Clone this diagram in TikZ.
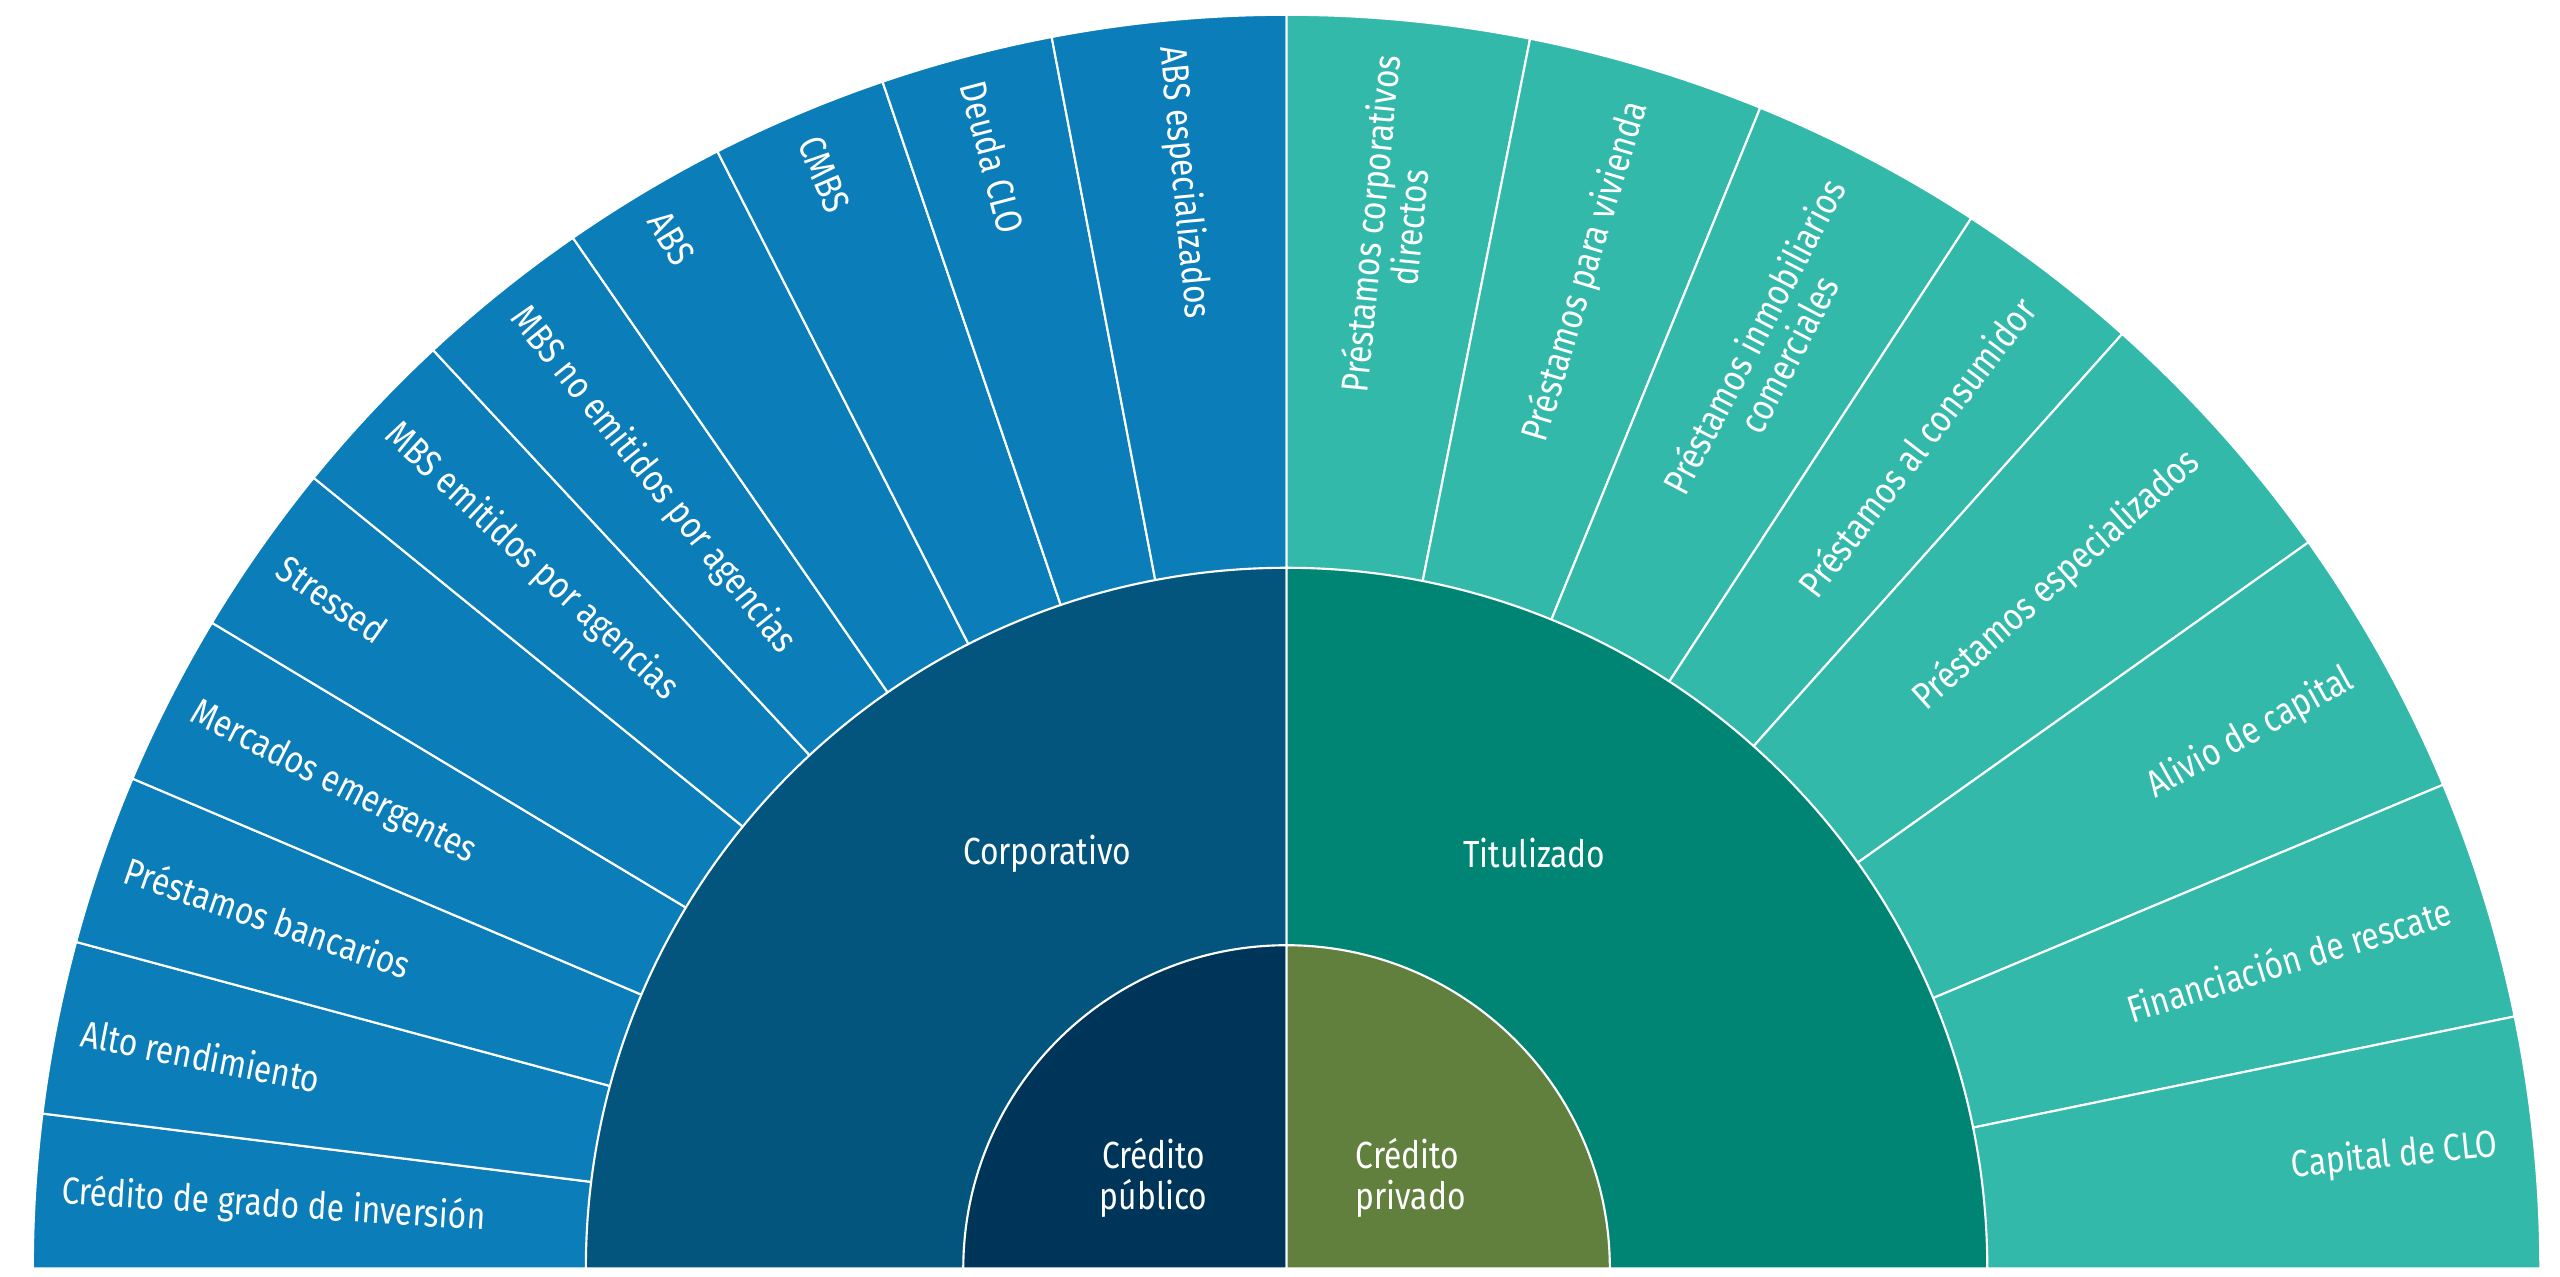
\documentclass[tikz,border=0pt]{standalone}
\usepackage{fontspec}
\usetikzlibrary{calc}
\setmainfont{Fira Sans}[FakeStretch=0.84]
\definecolor{outL}{HTML}{0B7DB9}
\definecolor{midL}{HTML}{03557E}
\definecolor{inL}{HTML}{00355A}
\definecolor{outR}{HTML}{33B9AA}
\definecolor{midR}{HTML}{008474}
\definecolor{inR}{HTML}{62803D}
\tikzset{wedge/.style={draw=white,line width=1.3pt},
 lab/.style={text=white,font=\fontsize{23}{24}\selectfont,inner sep=0pt,align=center},
 big/.style={text=white,font=\fontsize{23}{25}\selectfont,inner sep=0pt,align=left}}
\begin{document}
\begin{tikzpicture}[x=1pt,y=1pt]
\useasboundingbox (0,0) rectangle (1560,778);
\coordinate (C) at (784,5);
\def\R{764}
% left outer wedges
\foreach \a/\b/\t [count=\i] in {180/172.9/Crédito de grado de inversión,172.9/164.9/Alto rendimiento,164.9/157/Préstamos bancarios,157/149/Mercados emergentes,149/140.9/Stressed,140.9/132.9/MBS emitidos por agencias,132.9/124.7/MBS no emitidos por agencias,124.7/117/ABS,117/108.8/CMBS,108.8/100.8/Deuda CLO,100.8/90/ABS especializados}{
 \filldraw[wedge,fill=outL] (C) -- ($(C)+(\a:\R)$) arc[start angle=\a,end angle=\b,radius=\R] -- cycle;
 \pgfmathsetmacro\m{(\a+\b)/2}
 \node[lab,anchor=west,rotate=\m-180] (L\i) at ($(C)+(\m:748)$) {\t};
}
% right outer wedges
\foreach \a/\b/\t [count=\i] in {90/78.8/{Préstamos corporativos\\directos},78.8/67.8/Préstamos para vivienda,67.8/56.9/{Préstamos inmobiliarios\\comerciales},56.9/48.2/Préstamos al consumidor,48.2/35.4/Préstamos especializados,35.4/22.7/Alivio de capital,22.7/11.6/Financiación de rescate,11.6/0/Capital de CLO}{
 \filldraw[wedge,fill=outR] (C) -- ($(C)+(\a:\R)$) arc[start angle=\a,end angle=\b,radius=\R] -- cycle;
 \pgfmathsetmacro\m{(\a+\b)/2}
 \node[lab,anchor=east,rotate=\m] (R\i) at ($(C)+(\m:742)$) {\t};
}
% middle
\filldraw[wedge,fill=midL] (C) -- ($(C)+(180:427)$) arc[start angle=180,end angle=90,radius=427] -- cycle;
\filldraw[wedge,fill=midR] (C) -- ($(C)+(90:427)$) arc[start angle=90,end angle=0,radius=427] -- cycle;
\node[big] (corp) at (638,258) {Corporativo};
\node[big] (tit) at (935,258) {Titulizado};
% inner
\filldraw[wedge,fill=inL] (C) -- ($(C)+(180:197)$) arc[start angle=180,end angle=90,radius=197] -- cycle;
\filldraw[wedge,fill=inR] (C) -- ($(C)+(90:197)$) arc[start angle=90,end angle=0,radius=197] -- cycle;
\node[big,align=center] (pub) at (703,60) {Crédito\\público};
\node[big,anchor=west] (priv) at (826,60) {Crédito\\privado};
\end{tikzpicture}
\end{document}
